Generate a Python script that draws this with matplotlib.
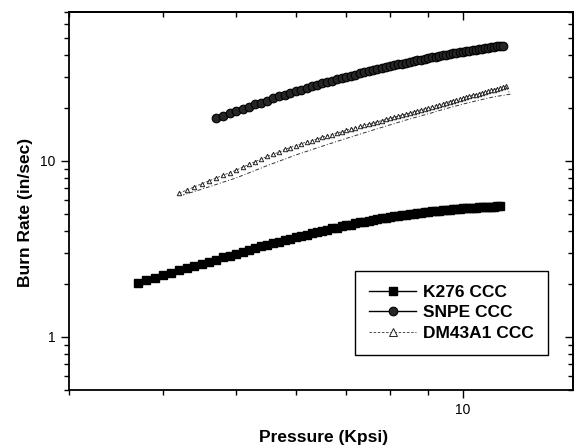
import matplotlib
matplotlib.use("Agg")
import matplotlib.pyplot as plt
from matplotlib.ticker import LogLocator, FixedLocator, NullFormatter, FixedFormatter

plt.rcParams['font.family'] = ['Liberation Sans', 'DejaVu Sans']

# ---------------- data ----------------
k276_p = [3.7, 3.8, 3.9, 4.0, 4.1, 4.2, 4.3, 4.4, 4.5, 4.6, 4.7, 4.8, 4.9, 5.0, 5.1, 5.2,
          5.3, 5.4, 5.5, 5.6, 5.7, 5.8, 5.9, 6.0, 6.1, 6.2, 6.3, 6.4, 6.5, 6.6, 6.7, 6.8,
          6.9, 7.0, 7.1, 7.2, 7.3, 7.4, 7.5, 7.6, 7.7, 7.8, 7.9, 8.0, 8.1, 8.2, 8.3, 8.4,
          8.5, 8.6, 8.7, 8.8, 8.9, 9.0, 9.1, 9.2, 9.3, 9.4, 9.5, 9.6, 9.7, 9.8, 9.9, 10.0,
          10.1, 10.2, 10.3, 10.4, 10.5, 10.6, 10.7, 10.8, 10.9, 11.0, 11.1, 11.2]
k276_r = [2.02, 2.10, 2.17, 2.25, 2.32, 2.39, 2.46, 2.53, 2.60, 2.68, 2.75, 2.83, 2.90, 2.97,
          3.05, 3.13, 3.20, 3.28, 3.35, 3.41, 3.48, 3.55, 3.61, 3.68, 3.74, 3.81, 3.87, 3.94,
          4.00, 4.07, 4.13, 4.18, 4.24, 4.30, 4.35, 4.41, 4.47, 4.52, 4.57, 4.61, 4.66, 4.71,
          4.75, 4.80, 4.85, 4.89, 4.92, 4.95, 4.99, 5.02, 5.05, 5.08, 5.12, 5.15, 5.17, 5.19,
          5.22, 5.24, 5.26, 5.28, 5.30, 5.33, 5.35, 5.37, 5.38, 5.40, 5.41, 5.42, 5.44, 5.45,
          5.46, 5.48, 5.49, 5.50, 5.52, 5.53]

snpe_p = [4.7, 4.8, 4.9, 5.0, 5.1, 5.2, 5.3, 5.4, 5.5, 5.6, 5.7, 5.8, 5.9, 6.0, 6.1, 6.2,
          6.3, 6.4, 6.5, 6.6, 6.7, 6.8, 6.9, 7.0, 7.1, 7.2, 7.3, 7.4, 7.5, 7.6, 7.7, 7.8,
          7.9, 8.0, 8.1, 8.2, 8.3, 8.4, 8.5, 8.6, 8.7, 8.8, 8.9, 9.0, 9.1, 9.2, 9.3, 9.4,
          9.5, 9.6, 9.7, 9.8, 9.9, 10.0, 10.1, 10.2, 10.3, 10.4, 10.5, 10.6, 10.7, 10.8,
          10.9, 11.0, 11.1, 11.2, 11.3]
snpe_r = [17.4, 18.0, 18.6, 19.2, 19.8, 20.3, 20.9, 21.4, 22.0, 22.6, 23.2, 23.7, 24.3, 24.9,
          25.4, 25.9, 26.5, 27.0, 27.5, 28.0, 28.5, 29.0, 29.5, 30.0, 30.5, 30.9, 31.4, 31.8,
          32.3, 32.7, 33.2, 33.6, 34.1, 34.5, 34.9, 35.3, 35.7, 36.1, 36.5, 36.9, 37.3, 37.6,
          38.0, 38.4, 38.7, 39.1, 39.4, 39.8, 40.1, 40.4, 40.7, 41.1, 41.4, 41.7, 42.0, 42.3,
          42.5, 42.8, 43.1, 43.4, 43.6, 43.9, 44.1, 44.4, 44.6, 44.9, 45.1]

dm_p = [4.2, 4.3, 4.4, 4.5, 4.6, 4.7, 4.8, 4.9, 5.0, 5.1, 5.2, 5.3, 5.4, 5.5, 5.6, 5.7,
        5.8, 5.9, 6.0, 6.1, 6.2, 6.3, 6.4, 6.5, 6.6, 6.7, 6.8, 6.9, 7.0, 7.1, 7.2, 7.3,
        7.4, 7.5, 7.6, 7.7, 7.8, 7.9, 8.0, 8.1, 8.2, 8.3, 8.4, 8.5, 8.6, 8.7, 8.8, 8.9,
        9.0, 9.1, 9.2, 9.3, 9.4, 9.5, 9.6, 9.7, 9.8, 9.9, 10.0, 10.1, 10.2, 10.3, 10.4,
        10.5, 10.6, 10.7, 10.8, 10.9, 11.0, 11.1, 11.2, 11.3, 11.4]
dm_r = [6.55, 6.83, 7.12, 7.40, 7.69, 7.98, 8.27, 8.56, 8.85, 9.20, 9.55, 9.90, 10.25, 10.6,
        10.9, 11.2, 11.6, 11.9, 12.2, 12.5, 12.8, 13.0, 13.3, 13.6, 13.9, 14.1, 14.4, 14.6,
        14.9, 15.2, 15.4, 15.7, 15.9, 16.2, 16.4, 16.7, 16.9, 17.2, 17.4, 17.7, 17.9, 18.2,
        18.4, 18.7, 19.0, 19.2, 19.5, 19.7, 20.0, 20.3, 20.6, 20.8, 21.1, 21.4, 21.7, 22.0,
        22.2, 22.5, 22.8, 23.1, 23.3, 23.6, 23.8, 24.1, 24.4, 24.6, 24.9, 25.1, 25.4, 25.7,
        25.9, 26.2, 26.5]
# return (decreasing pressure) branch of DM43A1
dm_ret_p = [11.4, 11.55, 11.0, 10.5, 10.0, 9.5, 9.0, 8.5, 8.0, 7.5, 7.0, 6.5, 6.0, 5.5, 5.0, 4.5, 4.25]
dm_ret_r = [26.5, 23.9, 23.1, 22.1, 21.0, 19.8, 18.5, 17.3, 16.0, 14.7, 13.4, 12.1, 10.8, 9.4, 8.0, 6.9, 6.4]

labels = ["K276 CCC", "SNPE CCC", "DM43A1 CCC"]

# ---------------- figure ----------------
fig = plt.figure(figsize=(5.83, 4.45), dpi=100)
ax = fig.add_axes([69/583, 1-390/445, 504/583, 378/445])

ax.plot(k276_p, k276_r, '-', color='black', lw=1.0, marker='s', ms=5.2,
        mfc='black', mec='black', label=labels[0])
ax.plot(snpe_p, snpe_r, '-', color='black', lw=1.0, marker='o', ms=6.2,
        mfc='#262626', mec='black', mew=0.8, label=labels[1])
ax.plot(dm_p, dm_r, '--', color='#333333', lw=0.6, dashes=(3, 2), marker='^', ms=3.2,
        mfc='white', mec='#222222', mew=0.7, label=labels[2])
ax.plot(dm_ret_p, dm_ret_r, '--', color='#333333', lw=0.7, dashes=(4, 2, 1, 2))

ax.set_xscale('log')
ax.set_yscale('log')
ax.set_xlim(3, 14)
ax.set_ylim(0.5, 70)

ax.xaxis.set_major_locator(FixedLocator([10]))
ax.xaxis.set_major_formatter(FixedFormatter(['10']))
ax.xaxis.set_minor_locator(LogLocator(base=10, subs=[2, 3, 4, 5, 6, 7, 8, 9], numticks=20))
ax.xaxis.set_minor_formatter(NullFormatter())
ax.yaxis.set_major_locator(FixedLocator([1, 10]))
ax.yaxis.set_major_formatter(FixedFormatter(['1', '10']))
ax.yaxis.set_minor_locator(LogLocator(base=10, subs=[2, 3, 4, 5, 6, 7, 8, 9], numticks=20))
ax.yaxis.set_minor_formatter(NullFormatter())

for sp in ax.spines.values():
    sp.set_linewidth(1.3)

ax.tick_params(which='both', direction='out', top=False, right=False, labelsize=10, width=1.0)
ax.tick_params(which='major', length=6)
ax.tick_params(which='minor', length=3.5)

# mirrored inward ticks on top and right
axt = ax.secondary_xaxis('top')
axt.xaxis.set_major_locator(FixedLocator([10]))
axt.xaxis.set_minor_locator(LogLocator(base=10, subs=[2, 3, 4, 5, 6, 7, 8, 9], numticks=20))
axt.tick_params(which='both', direction='in', labeltop=False, width=1.0)
axt.tick_params(which='major', length=6)
axt.tick_params(which='minor', length=3.5)
axt.spines['top'].set_linewidth(1.3)
axr = ax.secondary_yaxis('right')
axr.yaxis.set_major_locator(FixedLocator([1, 10]))
axr.yaxis.set_minor_locator(LogLocator(base=10, subs=[2, 3, 4, 5, 6, 7, 8, 9], numticks=20))
axr.tick_params(which='both', direction='in', labelright=False, width=1.0)
axr.tick_params(which='major', length=6)
axr.tick_params(which='minor', length=3.5)
axr.spines['right'].set_linewidth(1.3)

ax.set_xlabel("Pressure (Kpsi)", fontsize=12.5, fontweight='bold')
ax.set_ylabel("Burn Rate (in/sec)", fontsize=12.5, fontweight='bold')
ax.xaxis.set_label_coords(0.506, -0.105)
ax.yaxis.set_label_coords(-0.072, 0.471)

leg = ax.legend(loc='lower right', bbox_to_anchor=(0.950, 0.0926), borderaxespad=0,
                frameon=True, fancybox=False, edgecolor='black', framealpha=1,
                prop={'size': 12.5, 'weight': 'bold'}, handlelength=2.7,
                handletextpad=0.4, labelspacing=0.32, borderpad=0.8, markerscale=1.0)
leg.get_frame().set_linewidth(1.0)
leg.legend_handles[2].set_markersize(6)

fig.savefig("out.png", dpi=100)
